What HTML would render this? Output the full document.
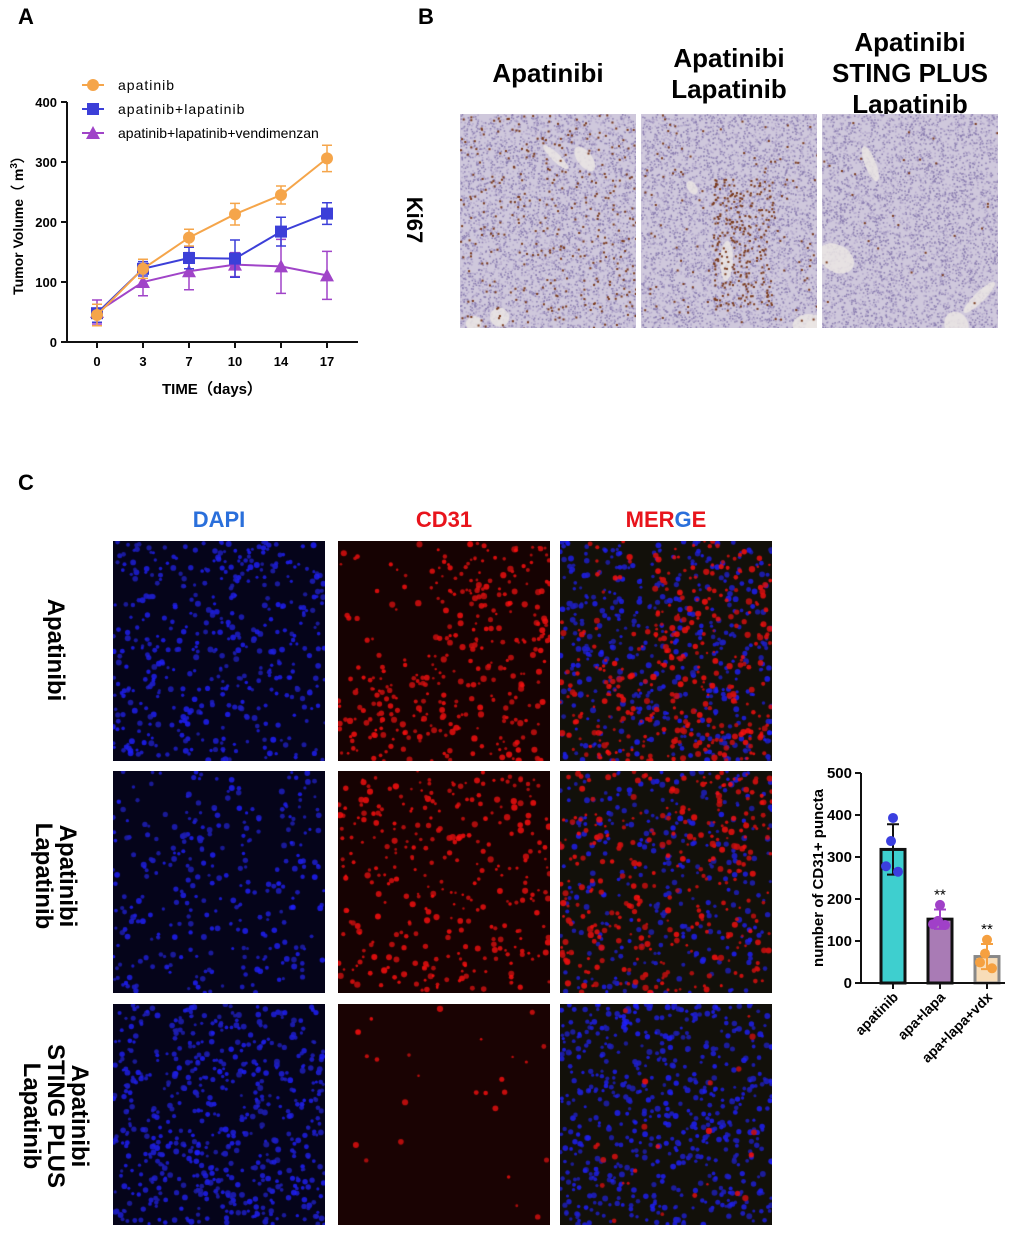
<!DOCTYPE html>
<html><head><meta charset="utf-8">
<style>
body{margin:0;background:#fff;width:1020px;height:1236px;position:relative;overflow:hidden;font-family:"Liberation Sans",Arial,sans-serif}
.lbl{position:absolute;font-weight:bold;color:#000}
canvas{position:absolute}
.ct{position:absolute;font-weight:bold;font-size:26px;text-align:center;line-height:31px}
.rt{position:absolute;font-weight:bold;font-size:22px;text-align:center;line-height:24px;transform:rotate(90deg);transform-origin:center;white-space:nowrap}
</style></head><body>
<div class="lbl" style="left:18px;top:4px;font-size:22px">A</div>
<div class="lbl" style="left:418px;top:4px;font-size:22px">B</div>
<div class="lbl" style="left:18px;top:470px;font-size:22px">C</div>

<svg id="chartA" width="380" height="410" style="position:absolute;left:0;top:0"></svg>

<div class="ct" style="left:450px;top:58px;width:196px">Apatinibi</div>
<div class="ct" style="left:631px;top:43px;width:196px">Apatinibi<br>Lapatinib</div>
<div class="ct" style="left:812px;top:27px;width:216px;margin-left:-10px">Apatinibi<br>STING PLUS<br>Lapatinib</div>
<div class="rt" style="left:384px;top:208px;width:60px">Ki67</div>

<div class="ct" style="left:113px;top:504px;width:212px;color:#2a6fdb;font-size:22px">DAPI</div>
<div class="ct" style="left:338px;top:504px;width:212px;color:#e8141c;font-size:22px">CD31</div>
<div class="ct" style="left:560px;top:504px;width:212px;font-size:22px"><span style="color:#e8141c">MER</span><span style="color:#2a6fdb">G</span><span style="color:#e8141c">E</span></div>
<div class="rt" style="left:-10px;top:638px;width:130px;font-size:24px">Apatinibi</div>
<div class="rt" style="left:-10px;top:852px;width:130px;font-size:24px">Apatinibi<br>Lapatinib</div>
<div class="rt" style="left:-35px;top:1080px;width:180px;font-size:24px">Apatinibi<br>STING PLUS<br>Lapatinib</div>

<svg id="chartC" width="240" height="330" style="position:absolute;left:790px;top:760px"></svg>

<script>
// ---- Chart A data ----
const days=["0","3","7","10","14","17"];
const apaMean=[45,122,174,213,245,306];
const apaErr=[18,16,14,18,15,22];
const lapMean=[48,122,140,139,184,214];
const lapErr=[15,12,18,31,24,18];
const vdxMean=[50,100,118,129,126,111];
const vdxErr=[20,23,31,20,45,40];
const yTicksA=[0,100,200,300,400];
const legendA=["apatinib","apatinib+lapatinib","apatinib+lapatinib+vendimenzan"];
// ---- Chart C data ----
const groups=["apatinib","apa+lapa","apa+lapa+vdx"];
const barMean=[318,152,63];
const barSd=[60,23,30];
const pts=[[393,338,278,265],[186,148,140,138],[103,70,49,35]];
const stars=["","**","**"];
const yTicksC=[0,100,200,300,400,500];

const NS="http://www.w3.org/2000/svg";
function mk(p,t,a){const e=document.createElementNS(NS,t);for(const k in a)e.setAttribute(k,a[k]);p.appendChild(e);return e;}

// Chart A
(function(){
const s=document.getElementById('chartA');
const X=i=>97+i*46, Y=v=>342-v*0.6;
let ax=mk(s,'path',{d:`M67,${Y(400)}V342H358`,stroke:'#111',fill:'none','stroke-width':2});

yTicksA.forEach(v=>{mk(s,'line',{x1:61,x2:67,y1:Y(v),y2:Y(v),stroke:'#111','stroke-width':2});
 const t=mk(s,'text',{x:57,y:Y(v)+5,'text-anchor':'end','font-size':13,'font-weight':'bold'});t.textContent=v;
 });
days.forEach((d,i)=>{mk(s,'line',{x1:X(i),x2:X(i),y1:342,y2:348,stroke:'#111','stroke-width':2});
 const t=mk(s,'text',{x:X(i),y:366,'text-anchor':'middle','font-size':13,'font-weight':'bold'});t.textContent=d;
 });
let xt=mk(s,'text',{x:212,y:394,'text-anchor':'middle','font-size':15,'font-weight':'bold'});xt.textContent='TIME（days）';

let yt=mk(s,'text',{x:0,y:0,transform:'translate(23,222) rotate(-90)','text-anchor':'middle','font-size':14,'font-weight':'bold'});
yt.innerHTML='Tumor Volume（ m<tspan dy="-6" font-size="10">3</tspan><tspan dy="6">）</tspan>';

const ser=[[apaMean,apaErr,'#f5a54a','c'],[lapMean,lapErr,'#3c3fd8','s'],[vdxMean,vdxErr,'#a044c8','t']];
function marker(g,x,y,c,k,r){if(k==='c')return mk(g,'circle',{cx:x,cy:y,r:r,fill:c});
 if(k==='s')return mk(g,'rect',{x:x-r,y:y-r,width:2*r,height:2*r,fill:c});
 return mk(g,'path',{d:`M${x},${y-r-1}L${x+r+1},${y+r}L${x-r-1},${y+r}Z`,fill:c});}
ser.slice().reverse().forEach(([m,e,c,k])=>{
 const g=mk(s,'g',{});
 mk(g,'polyline',{points:m.map((v,i)=>X(i)+','+Y(v)).join(' '),fill:'none',stroke:c,'stroke-width':2});
 m.forEach((v,i)=>{const x=X(i);mk(g,'path',{d:`M${x},${Y(v-e[i])}V${Y(v+e[i])}M${x-5},${Y(v-e[i])}h10M${x-5},${Y(v+e[i])}h10`,stroke:c,'stroke-width':1.5,fill:'none'});
  marker(g,x,Y(v),c,k,6);});
});
ser.forEach(([m,e,c,k],i)=>{const y=85+i*24;
 const g=mk(s,'g',{});
 mk(g,'line',{x1:82,x2:104,y1:y,y2:y,stroke:c,'stroke-width':2});marker(g,93,y,c,k,6);
 const t=mk(g,'text',{x:118,y:y+5,'font-size':14,'letter-spacing':i==2?0:1});t.textContent=legendA[i];});
})();

// Chart C
(function(){
const s=document.getElementById('chartC');
const ox=71, Y=v=>223-v*0.42, X=i=>103+i*47;
const fills=['#3ecfcf','#a97bb5','#f8ddb8'],edges=['#111','#111','#888'],dots=['#3b3fe0','#a040c8','#f5a040'];
groups.forEach((gname,i)=>{const g=mk(s,'g',{});
 mk(g,'rect',{x:X(i)-12,y:Y(barMean[i]),width:24,height:Y(0)-Y(barMean[i]),fill:fills[i],stroke:edges[i],'stroke-width':3});
 const lo=barMean[i]-barSd[i],hi=barMean[i]+barSd[i];
 mk(g,'path',{d:`M${X(i)},${Y(lo)}V${Y(hi)}M${X(i)-6},${Y(hi)}h12M${X(i)-6},${Y(lo)}h12`,stroke:i==0?'#111':dots[i],'stroke-width':2,fill:'none'});
 pts[i].forEach((v,j)=>{mk(g,'circle',{cx:X(i)+[0,-2,-7,5][j],cy:Y(v),r:5,fill:dots[i]});});
 if(stars[i]){const t=mk(g,'text',{x:X(i),y:Y(barMean[i]+barSd[i])-10,'text-anchor':'middle','font-size':15});t.textContent=stars[i];}
 mk(s,'line',{x1:X(i),x2:X(i),y1:223,y2:229,stroke:'#111','stroke-width':2});
 const t=mk(s,'text',{x:0,y:0,transform:`translate(${X(i)+6},${238}) rotate(-45)`,'text-anchor':'end','font-size':14,'font-weight':'bold'});t.textContent=gname;
 
});
mk(s,'path',{d:`M${ox},${Y(500)}V223H215`,stroke:'#111',fill:'none','stroke-width':2});
yTicksC.forEach(v=>{mk(s,'line',{x1:ox-6,x2:ox,y1:Y(v),y2:Y(v),stroke:'#111','stroke-width':2});
 const t=mk(s,'text',{x:ox-9,y:Y(v)+5,'text-anchor':'end','font-size':15,'font-weight':'bold'});t.textContent=v;
 });
const yt=mk(s,'text',{x:0,y:0,transform:'translate(33,118) rotate(-90)','text-anchor':'middle','font-size':15,'font-weight':'bold'});yt.textContent='number of CD31+ puncta';

})();

// Micrograph textures
let seed=7;function rnd(){seed=(seed*16807)%2147483647;return seed/2147483647;}
function img(x,y,w,h,name,draw){const c=document.createElement('canvas');c.width=w;c.height=h;c.style.left=x+'px';c.style.top=y+'px';
 document.body.appendChild(c);draw(c.getContext('2d'),w,h);}
function ihc(dens,bias){return (g,w,h)=>{g.fillStyle='#cfc8dc';g.fillRect(0,0,w,h);
 for(let i=0;i<5000;i++){g.fillStyle=rnd()<.5?'#8a7db0':'#b3a8cc';g.fillRect(rnd()*w,rnd()*h,1.5,1.5);}
 for(let i=0;i<4;i++){g.fillStyle='rgba(235,230,228,0.85)';g.beginPath();g.ellipse(rnd()*w,rnd()*h,6+rnd()*16,4+rnd()*10,rnd()*3,0,7);g.fill();}
 for(let i=0;i<dens;i++){let x=rnd()*w,y=rnd()*h;if(bias&&rnd()<.6){x=w*(0.4+rnd()*0.35);y=h*(0.3+rnd()*0.6);}
  g.fillStyle='#7a3a1c';g.fillRect(x,y,2,2);}};}
img(460,114,176,214,'ki67-apatinibi',ihc(350,0));
img(641,114,176,214,'ki67-apa-lapa',ihc(380,1));
img(822,114,176,214,'ki67-apa-sting-lapa',ihc(30,0));
function fluo(blue,red,tint,rb){return (g,w,h)=>{g.fillStyle=tint;g.fillRect(0,0,w,h);
 for(let i=0;i<blue;i++){g.fillStyle='rgba(30,30,'+(170+rnd()*85|0)+',0.85)';g.beginPath();g.arc(rnd()*w,rnd()*h,1.5+rnd()*1.5,0,7);g.fill();}
 for(let i=0;i<red;i++){let x=rnd()*w,y=rnd()*h;if(rb&&x<w*0.45&&y<h*0.55&&rnd()<.8)continue;
  g.fillStyle='rgba('+(190+rnd()*65|0)+',15,15,0.85)';g.beginPath();g.arc(x,y,1.2+rnd()*2,0,7);g.fill();}};}
const rows=[[541,220,[450,420,1]],[771,222,[300,320,0]],[1004,221,[600,25,0]]];
const names=['apatinibi','apa-lapa','apa-sting-lapa'];
rows.forEach(([y,h,[b,r,rb]],i)=>{
 img(113,y,212,h,'dapi-'+names[i],fluo(b,0,'#05041a',0));
 img(338,y,212,h,'cd31-'+names[i],fluo(0,r,i==2?'#1a0303':'#160202',rb));
 img(560,y,212,h,'merge-'+names[i],fluo(b,r,'#12100a',rb));
});
</script>
</body></html>
